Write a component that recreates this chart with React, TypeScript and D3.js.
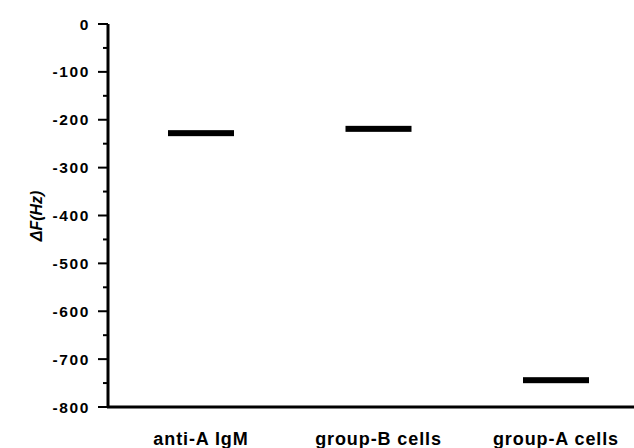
import React, { useEffect, useRef } from 'react';
import * as d3 from 'd3';

// data
const categories = ['anti-A IgM', 'group-B cells', 'group-A cells'];
const shifts = [-228, -219, -744];
const yTicks = [0, -100, -200, -300, -400, -500, -600, -700, -800];

const W = 634;
const H = 448;

export default function App() {
  const ref = useRef<SVGSVGElement>(null);

  useEffect(() => {
    const svg = d3.select(ref.current);
    svg.selectAll('*').remove();

    const axisX = 108;
    const y = d3.scaleLinear().domain([0, -800]).range([24, 407]);
    const x = d3.scalePoint<string>().domain(categories).range([201, 556]);
    const markW = 66;
    const font = 'Liberation Sans, Arial, sans-serif';

    // minor ticks
    const minor = d3.range(-50, -800, -100);
    svg.append('g')
      .selectAll('line')
      .data(minor)
      .enter().append('line')
      .attr('x1', axisX - 5).attr('x2', axisX)
      .attr('y1', d => y(d)).attr('y2', d => y(d))
      .attr('stroke', '#000').attr('stroke-width', 2);

    // major ticks + labels
    const g = svg.append('g');
    g.selectAll('line')
      .data(yTicks)
      .enter().append('line')
      .attr('x1', axisX - 10).attr('x2', axisX)
      .attr('y1', d => y(d)).attr('y2', d => y(d))
      .attr('stroke', '#000').attr('stroke-width', 2);
    g.selectAll('text')
      .data(yTicks)
      .enter().append('text')
      .attr('x', 90)
      .attr('y', d => y(d))
      .attr('dy', '0.36em')
      .attr('text-anchor', 'end')
      .attr('font-family', font)
      .attr('font-weight', 'bold')
      .attr('font-size', 15.5)
      .attr('letter-spacing', 1.6)
      .text(d => (d === 0 ? '0' : '-' + Math.abs(d)));

    // axes lines
    svg.append('line')
      .attr('x1', axisX).attr('x2', axisX)
      .attr('y1', y(0)).attr('y2', y(-800) + 1)
      .attr('stroke', '#000').attr('stroke-width', 3);
    svg.append('line')
      .attr('x1', axisX - 1).attr('x2', W)
      .attr('y1', y(-800)).attr('y2', y(-800))
      .attr('stroke', '#000').attr('stroke-width', 3);

    // mean marks
    svg.append('g')
      .selectAll('rect')
      .data(shifts)
      .enter().append('rect')
      .attr('x', (d, i) => (x(categories[i]) as number) - markW / 2)
      .attr('y', d => y(d) - 3)
      .attr('width', markW)
      .attr('height', 6)
      .attr('fill', '#000');

    // category labels
    svg.append('g')
      .selectAll('text')
      .data(categories)
      .enter().append('text')
      .attr('x', d => x(d) as number)
      .attr('y', 445)
      .attr('text-anchor', 'middle')
      .attr('font-family', font)
      .attr('font-weight', 'bold')
      .attr('font-size', 18)
      .attr('letter-spacing', 0.9)
      .text(d => d);

    // y axis title
    svg.append('text')
      .attr('transform', `translate(42,216) rotate(-90)`)
      .attr('text-anchor', 'middle')
      .attr('font-family', font)
      .attr('font-weight', 'bold')
      .attr('font-style', 'italic')
      .attr('font-size', 16)
      .text('ΔF(Hz)');
  }, []);

  return (
    <svg
      ref={ref}
      width={W}
      height={H}
      style={{ position: 'absolute', left: 0, top: 0, background: '#fff' }}
    />
  );
}
